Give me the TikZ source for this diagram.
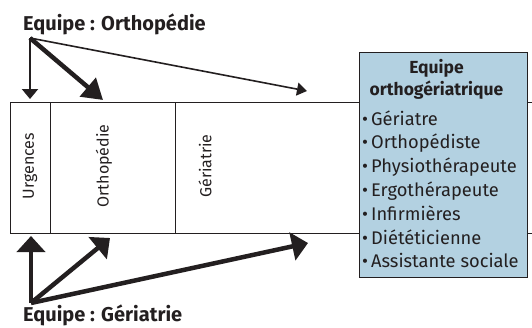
\documentclass[tikz,border=0pt]{standalone}
\usepackage{fontspec}
\setmainfont{Fira Sans}
\usetikzlibrary{arrows.meta}

\definecolor{ink}{HTML}{231F20}
\definecolor{teamblue}{HTML}{B3D1E1}

\tikzset{
  teamlabel/.style={font=\fontsize{20}{24}\selectfont\bfseries, text=ink, inner sep=0pt, anchor=base west},
  deptlabel/.style={font=\fontsize{16}{19}\selectfont, text=ink, inner sep=0pt, rotate=90},
  itemlabel/.style={font=\fontsize{18.3}{22}\selectfont, text=ink, inner sep=0pt, anchor=base west},
  slimarrow/.style={draw=ink, line width=1.6pt, -{Triangle[length=10pt,width=13pt]}},
  midarrow/.style={draw=ink, line width=2.2pt, -{Triangle[length=10pt,width=16pt]}},
  fatarrow/.style={draw=ink, line width=4.5pt, -{Triangle[length=16pt,width=28pt]}},
}

\begin{document}
\begin{tikzpicture}[x=1pt,y=-1pt]
  \useasboundingbox (0,0) rectangle (532,327);

  % table of the wards
  \draw[ink, line width=0.9pt] (532,102) -- (10,102) -- (10,233) -- (532,233);
  \draw[ink, line width=0.9pt] (50,102) -- (50,233) (175,102) -- (175,233);
  \node[deptlabel] (urg) at (30,166) {Urgences};
  \node[deptlabel] (orthw) at (104,166) {Orthopédie};
  \node[deptlabel] (geriw) at (205,166) {Gériatrie};

  % the joint team
  \node[draw=ink, fill=teamblue, line width=0.9pt, minimum width=167.5pt, minimum height=225pt,
        inner sep=0pt] (team) at (443.25,164.5) {};
  \node[font=\fontsize{17.5}{21}\selectfont\bfseries, text=ink, inner sep=0pt, anchor=base]
    (teamtitle) at (436.5,73) {Equipe};
  \node[font=\fontsize{17.5}{21}\selectfont\bfseries, text=ink, inner sep=0pt, anchor=base]
    (teamtitle2) at (436.5,95) {orthogériatrique};
  \foreach \item [count=\i from 0] in {Gériatre, Orthopédiste, Physiothérapeute,
      Ergothérapeute, Infirmières, Diététicienne, Assistante sociale}
    \node[itemlabel] (item\i) at (362,125+23.8*\i) {\textbullet\hspace{3pt}\item};

  % team of orthopedics, above
  \node[teamlabel] (orthteam) at (23,30) {Equipe : Orthopédie};
  \coordinate (orthsrc) at (30,38);
  \coordinate (urgtop) at (30,99);
  \coordinate (orthtop) at (103,100);
  \coordinate (geritop) at (307,91);
  \draw[midarrow] (orthsrc) -- (urgtop);
  \draw[fatarrow, -{Triangle[length=20pt,width=24pt]}] (orthsrc) -- (orthtop);
  \draw[slimarrow] (orthsrc) -- (geritop);

  % team of geriatrics, below
  \node[teamlabel] (geriteam) at (23,321) {Equipe : Gériatrie};
  \coordinate (gerisrc) at (31,303);
  \coordinate (urgbot) at (31,236);
  \coordinate (orthbot) at (110,238);
  \coordinate (geribot) at (308,243);
  \draw[fatarrow] (gerisrc) -- (urgbot);
  \draw[fatarrow] (gerisrc) -- (orthbot);
  \draw[fatarrow] (gerisrc) -- (geribot);
\end{tikzpicture}
\end{document}
